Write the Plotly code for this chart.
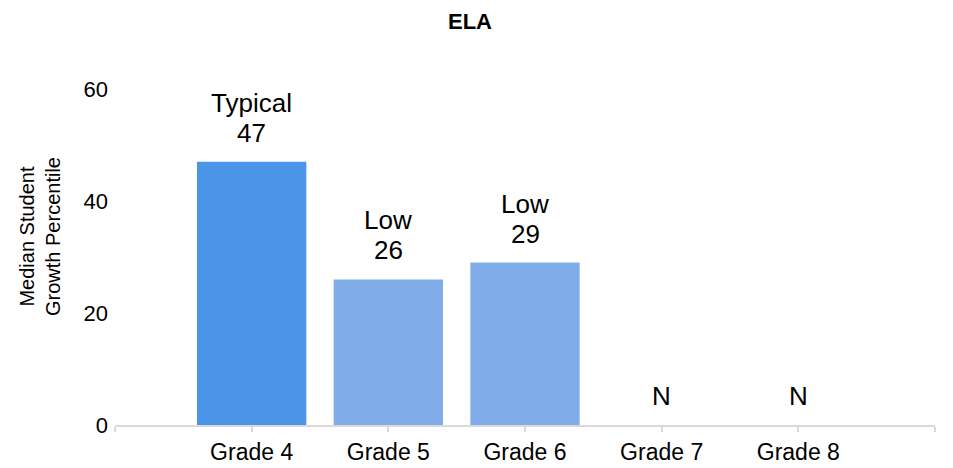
import plotly.graph_objects as go

categories = ["Grade 4", "Grade 5", "Grade 6", "Grade 7", "Grade 8"]
values = [47, 26, 29, None, None]
labels = ["Typical", "Low", "Low", "N", "N"]
colors = ["#4A95E7", "#80ADE9", "#80ADE9", "#80ADE9", "#80ADE9"]
y_ticks = [0, 20, 40, 60]

FONT = "Liberation Sans, Arial, sans-serif"
OFF = 8  # default page body margin
W, H = 953 - OFF, 468 - OFF
ML, MR, MT, MB = 115 - OFF, 18, 89 - OFF, 43
pw, ph = W - ML - MR, H - MT - MB
xpos = list(range(len(categories)))

fig = go.Figure()
fig.add_trace(go.Bar(
    x=xpos, y=[v if v is not None else 0 for v in values],
    width=0.8, marker=dict(color=colors, line=dict(width=0)),
    hoverinfo="skip",
))

LBL_FONT = dict(family=FONT, size=26, color="#000000")
annotations = []
for xi, v, lab in zip(xpos, values, labels):
    if v is None:
        annotations.append(dict(x=xi, y=0, xref="x", yref="y", text=lab, showarrow=False,
                                yanchor="bottom", yshift=12, font=LBL_FONT))
    else:
        annotations.append(dict(x=xi, y=v, xref="x", yref="y", text=str(v), showarrow=False,
                                yanchor="bottom", yshift=12, font=LBL_FONT))
        annotations.append(dict(x=xi, y=v, xref="x", yref="y", text=lab, showarrow=False,
                                yanchor="bottom", yshift=42, font=LBL_FONT))

annotations.append(dict(
    x=(40 - OFF - ML) / pw, y=(425 - 237) / ph, xref="paper", yref="paper",
    text="Median Student<br>Growth Percentile",
    showarrow=False, textangle=-90, font=dict(family=FONT, size=20, color="#000000"),
    xanchor="center", yanchor="middle",
))

fig.update_layout(
    width=W, height=H,
    margin=dict(l=ML, r=MR, t=MT, b=MB),
    paper_bgcolor="white", plot_bgcolor="white",
    showlegend=False,
    title=dict(text="<b>ELA</b>", x=(470 - OFF) / W, xref="container", xanchor="center",
               y=1 - (21 - OFF) / H, yref="container", yanchor="middle",
               font=dict(family=FONT, size=22, color="#000000")),
    xaxis=dict(
        range=[-1, len(categories)], tickmode="array",
        tickvals=[-1] + xpos + [len(categories)],
        ticktext=[""] + categories + [""],
        showline=True, linecolor="#D9D9D9", linewidth=2,
        ticks="outside", ticklen=5, tickcolor="#D9D9D9", tickwidth=2,
        showgrid=False, zeroline=False,
        tickfont=dict(family=FONT, size=23, color="#000000"),
        automargin=False,
        fixedrange=True,
    ),
    yaxis=dict(
        range=[0, 60], tickmode="array", tickvals=y_ticks,
        showline=False, showgrid=False, zeroline=False, ticks="",
        tickfont=dict(family=FONT, size=22, color="#000000"),
        ticklabelstandoff=6,
        automargin=False,
        fixedrange=True,
    ),
    annotations=annotations,
)

fig.write_html("out.html")
